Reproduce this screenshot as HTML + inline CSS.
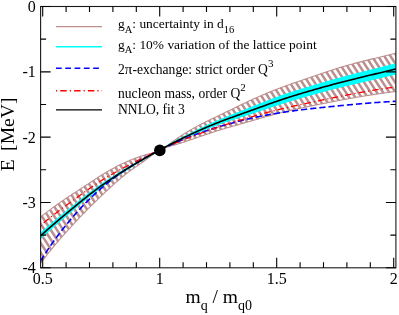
<!DOCTYPE html>
<html><head><meta charset="utf-8"><title>plot</title><style>
html,body{margin:0;padding:0;background:#fff;overflow:hidden}svg{display:block;will-change:transform}
text{font-family:"Liberation Serif",serif;fill:#000}
</style></head><body>
<svg width="399" height="315" viewBox="0 0 399 315">
<rect width="399" height="315" fill="#fff"/>
<defs>
<clipPath id="c"><rect x="40.6" y="6.5" width="355.3" height="261.3"/></clipPath>
</defs>
<g clip-path="url(#c)">
<clipPath id="bc"><polygon points="40.50,217.00 41.50,216.22 42.50,215.45 43.50,214.68 44.50,213.92 45.50,213.16 46.50,212.40 47.50,211.64 48.50,210.89 49.50,210.15 50.50,209.40 51.50,208.66 52.50,207.92 53.50,207.19 54.50,206.46 55.50,205.74 56.50,205.02 57.50,204.30 58.50,203.59 59.50,202.88 60.50,202.17 61.50,201.47 62.50,200.78 63.50,200.09 64.50,199.40 65.50,198.72 66.50,198.04 67.50,197.36 68.50,196.69 69.50,196.03 70.50,195.37 71.50,194.72 72.50,194.06 73.50,193.42 74.50,192.77 75.50,192.13 76.50,191.48 77.50,190.84 78.50,190.20 79.50,189.56 80.50,188.92 81.50,188.27 82.50,187.63 83.50,186.98 84.50,186.33 85.50,185.67 86.50,185.01 87.50,184.35 88.50,183.68 89.50,183.02 90.50,182.35 91.50,181.68 92.50,181.01 93.50,180.34 94.50,179.68 95.50,179.02 96.50,178.36 97.50,177.71 98.50,177.06 99.50,176.42 100.50,175.78 101.50,175.15 102.50,174.53 103.50,173.92 104.50,173.31 105.50,172.71 106.50,172.12 107.50,171.53 108.50,170.95 109.50,170.38 110.50,169.82 111.50,169.26 112.50,168.71 113.50,168.17 114.50,167.64 115.50,167.11 116.50,166.59 117.50,166.08 118.50,165.57 119.50,165.07 120.50,164.58 121.50,164.10 122.50,163.62 123.50,163.16 124.50,162.70 125.50,162.24 126.50,161.80 127.50,161.36 128.50,160.93 129.50,160.51 130.50,160.09 131.50,159.69 132.50,159.29 133.50,158.90 134.50,158.51 135.50,158.14 136.50,157.77 137.50,157.41 138.50,157.06 139.50,156.72 140.50,156.39 141.50,156.06 142.50,155.75 143.50,155.44 144.50,155.15 145.50,154.86 146.50,154.58 147.50,154.30 148.50,154.02 149.50,153.75 150.50,153.46 151.50,153.17 152.50,152.87 153.50,152.55 154.50,152.22 155.50,151.86 156.50,151.48 157.50,151.08 158.50,150.64 159.50,150.17 160.50,149.66 161.50,149.12 162.50,148.55 163.50,147.95 164.50,147.33 165.50,146.68 166.50,146.02 167.50,145.33 168.50,144.64 169.50,143.94 170.50,143.22 171.50,142.51 172.50,141.79 173.50,141.07 174.50,140.35 175.50,139.65 176.50,138.95 177.50,138.26 178.50,137.57 179.50,136.90 180.50,136.23 181.50,135.57 182.50,134.92 183.50,134.28 184.50,133.64 185.50,133.02 186.50,132.40 187.50,131.79 188.50,131.19 189.50,130.59 190.50,130.01 191.50,129.43 192.50,128.86 193.50,128.30 194.50,127.74 195.50,127.19 196.50,126.65 197.50,126.12 198.50,125.58 199.50,125.06 200.50,124.54 201.50,124.03 202.50,123.52 203.50,123.01 204.50,122.51 205.50,122.01 206.50,121.51 207.50,121.02 208.50,120.53 209.50,120.05 210.50,119.56 211.50,119.08 212.50,118.60 213.50,118.12 214.50,117.64 215.50,117.16 216.50,116.68 217.50,116.20 218.50,115.72 219.50,115.24 220.50,114.76 221.50,114.28 222.50,113.79 223.50,113.31 224.50,112.83 225.50,112.34 226.50,111.85 227.50,111.37 228.50,110.88 229.50,110.40 230.50,109.91 231.50,109.42 232.50,108.94 233.50,108.45 234.50,107.97 235.50,107.48 236.50,107.00 237.50,106.51 238.50,106.03 239.50,105.55 240.50,105.07 241.50,104.59 242.50,104.12 243.50,103.64 244.50,103.17 245.50,102.70 246.50,102.23 247.50,101.76 248.50,101.29 249.50,100.83 250.50,100.37 251.50,99.91 252.50,99.46 253.50,99.00 254.50,98.55 255.50,98.11 256.50,97.66 257.50,97.22 258.50,96.78 259.50,96.34 260.50,95.91 261.50,95.48 262.50,95.05 263.50,94.62 264.50,94.20 265.50,93.78 266.50,93.36 267.50,92.94 268.50,92.53 269.50,92.12 270.50,91.71 271.50,91.31 272.50,90.91 273.50,90.51 274.50,90.12 275.50,89.73 276.50,89.34 277.50,88.95 278.50,88.57 279.50,88.19 280.50,87.81 281.50,87.44 282.50,87.07 283.50,86.70 284.50,86.33 285.50,85.97 286.50,85.61 287.50,85.25 288.50,84.90 289.50,84.54 290.50,84.19 291.50,83.84 292.50,83.49 293.50,83.14 294.50,82.79 295.50,82.45 296.50,82.10 297.50,81.76 298.50,81.42 299.50,81.08 300.50,80.74 301.50,80.40 302.50,80.06 303.50,79.72 304.50,79.38 305.50,79.03 306.50,78.69 307.50,78.35 308.50,78.01 309.50,77.67 310.50,77.33 311.50,76.99 312.50,76.64 313.50,76.30 314.50,75.95 315.50,75.61 316.50,75.26 317.50,74.92 318.50,74.58 319.50,74.23 320.50,73.89 321.50,73.55 322.50,73.20 323.50,72.86 324.50,72.52 325.50,72.19 326.50,71.85 327.50,71.51 328.50,71.18 329.50,70.85 330.50,70.52 331.50,70.19 332.50,69.86 333.50,69.54 334.50,69.22 335.50,68.90 336.50,68.58 337.50,68.27 338.50,67.96 339.50,67.65 340.50,67.35 341.50,67.05 342.50,66.75 343.50,66.46 344.50,66.17 345.50,65.88 346.50,65.59 347.50,65.31 348.50,65.03 349.50,64.75 350.50,64.48 351.50,64.21 352.50,63.94 353.50,63.67 354.50,63.40 355.50,63.14 356.50,62.88 357.50,62.62 358.50,62.36 359.50,62.11 360.50,61.85 361.50,61.60 362.50,61.35 363.50,61.10 364.50,60.85 365.50,60.60 366.50,60.35 367.50,60.11 368.50,59.86 369.50,59.62 370.50,59.38 371.50,59.14 372.50,58.90 373.50,58.65 374.50,58.41 375.50,58.17 376.50,57.93 377.50,57.69 378.50,57.45 379.50,57.21 380.50,56.97 381.50,56.73 382.50,56.49 383.50,56.25 384.50,56.01 385.50,55.77 386.50,55.53 387.50,55.28 388.50,55.04 389.50,54.79 390.50,54.55 391.50,54.30 392.50,54.05 393.50,53.80 394.50,53.55 395.50,53.30 395.90,53.20 395.90,91.50 395.50,91.55 394.50,91.67 393.50,91.79 392.50,91.91 391.50,92.04 390.50,92.17 389.50,92.30 388.50,92.43 387.50,92.56 386.50,92.69 385.50,92.83 384.50,92.96 383.50,93.10 382.50,93.24 381.50,93.38 380.50,93.52 379.50,93.67 378.50,93.81 377.50,93.96 376.50,94.11 375.50,94.26 374.50,94.41 373.50,94.56 372.50,94.71 371.50,94.87 370.50,95.02 369.50,95.18 368.50,95.34 367.50,95.50 366.50,95.66 365.50,95.82 364.50,95.98 363.50,96.15 362.50,96.31 361.50,96.48 360.50,96.65 359.50,96.81 358.50,96.98 357.50,97.16 356.50,97.33 355.50,97.50 354.50,97.67 353.50,97.85 352.50,98.03 351.50,98.20 350.50,98.38 349.50,98.56 348.50,98.74 347.50,98.92 346.50,99.10 345.50,99.28 344.50,99.47 343.50,99.65 342.50,99.83 341.50,100.02 340.50,100.21 339.50,100.39 338.50,100.58 337.50,100.77 336.50,100.96 335.50,101.15 334.50,101.34 333.50,101.53 332.50,101.72 331.50,101.92 330.50,102.11 329.50,102.30 328.50,102.50 327.50,102.69 326.50,102.89 325.50,103.09 324.50,103.28 323.50,103.48 322.50,103.68 321.50,103.88 320.50,104.08 319.50,104.28 318.50,104.48 317.50,104.68 316.50,104.88 315.50,105.08 314.50,105.28 313.50,105.49 312.50,105.69 311.50,105.89 310.50,106.10 309.50,106.30 308.50,106.51 307.50,106.71 306.50,106.92 305.50,107.13 304.50,107.33 303.50,107.54 302.50,107.75 301.50,107.96 300.50,108.17 299.50,108.39 298.50,108.60 297.50,108.82 296.50,109.03 295.50,109.25 294.50,109.47 293.50,109.69 292.50,109.92 291.50,110.14 290.50,110.37 289.50,110.60 288.50,110.83 287.50,111.07 286.50,111.30 285.50,111.54 284.50,111.78 283.50,112.03 282.50,112.27 281.50,112.52 280.50,112.77 279.50,113.03 278.50,113.29 277.50,113.55 276.50,113.81 275.50,114.07 274.50,114.34 273.50,114.61 272.50,114.89 271.50,115.16 270.50,115.44 269.50,115.71 268.50,115.99 267.50,116.27 266.50,116.56 265.50,116.84 264.50,117.13 263.50,117.41 262.50,117.70 261.50,117.98 260.50,118.27 259.50,118.56 258.50,118.85 257.50,119.14 256.50,119.43 255.50,119.72 254.50,120.01 253.50,120.29 252.50,120.58 251.50,120.87 250.50,121.16 249.50,121.44 248.50,121.73 247.50,122.01 246.50,122.30 245.50,122.58 244.50,122.86 243.50,123.15 242.50,123.43 241.50,123.71 240.50,124.00 239.50,124.28 238.50,124.56 237.50,124.85 236.50,125.13 235.50,125.42 234.50,125.70 233.50,125.99 232.50,126.28 231.50,126.56 230.50,126.85 229.50,127.15 228.50,127.44 227.50,127.73 226.50,128.03 225.50,128.33 224.50,128.63 223.50,128.93 222.50,129.23 221.50,129.54 220.50,129.85 219.50,130.16 218.50,130.47 217.50,130.78 216.50,131.10 215.50,131.42 214.50,131.74 213.50,132.07 212.50,132.39 211.50,132.72 210.50,133.05 209.50,133.38 208.50,133.71 207.50,134.05 206.50,134.38 205.50,134.72 204.50,135.05 203.50,135.39 202.50,135.73 201.50,136.07 200.50,136.41 199.50,136.75 198.50,137.09 197.50,137.43 196.50,137.78 195.50,138.12 194.50,138.46 193.50,138.80 192.50,139.15 191.50,139.49 190.50,139.83 189.50,140.17 188.50,140.51 187.50,140.85 186.50,141.19 185.50,141.53 184.50,141.86 183.50,142.19 182.50,142.51 181.50,142.84 180.50,143.16 179.50,143.47 178.50,143.78 177.50,144.08 176.50,144.37 175.50,144.66 174.50,144.94 173.50,145.21 172.50,145.48 171.50,145.76 170.50,146.03 169.50,146.31 168.50,146.60 167.50,146.90 166.50,147.22 165.50,147.56 164.50,147.92 163.50,148.31 162.50,148.72 161.50,149.16 160.50,149.64 159.50,150.16 158.50,150.72 157.50,151.31 156.50,151.94 155.50,152.60 154.50,153.29 153.50,154.00 152.50,154.72 151.50,155.47 150.50,156.22 149.50,156.98 148.50,157.75 147.50,158.51 146.50,159.27 145.50,160.03 144.50,160.77 143.50,161.50 142.50,162.22 141.50,162.93 140.50,163.63 139.50,164.33 138.50,165.02 137.50,165.71 136.50,166.40 135.50,167.09 134.50,167.79 133.50,168.49 132.50,169.19 131.50,169.91 130.50,170.63 129.50,171.37 128.50,172.12 127.50,172.88 126.50,173.65 125.50,174.44 124.50,175.23 123.50,176.04 122.50,176.85 121.50,177.68 120.50,178.51 119.50,179.36 118.50,180.21 117.50,181.07 116.50,181.95 115.50,182.82 114.50,183.71 113.50,184.60 112.50,185.50 111.50,186.41 110.50,187.32 109.50,188.24 108.50,189.17 107.50,190.10 106.50,191.03 105.50,191.97 104.50,192.91 103.50,193.86 102.50,194.81 101.50,195.76 100.50,196.72 99.50,197.68 98.50,198.64 97.50,199.60 96.50,200.57 95.50,201.54 94.50,202.51 93.50,203.49 92.50,204.47 91.50,205.46 90.50,206.45 89.50,207.45 88.50,208.45 87.50,209.45 86.50,210.47 85.50,211.49 84.50,212.51 83.50,213.55 82.50,214.59 81.50,215.63 80.50,216.68 79.50,217.74 78.50,218.80 77.50,219.87 76.50,220.94 75.50,222.02 74.50,223.10 73.50,224.18 72.50,225.27 71.50,226.36 70.50,227.45 69.50,228.55 68.50,229.65 67.50,230.75 66.50,231.86 65.50,232.97 64.50,234.08 63.50,235.20 62.50,236.33 61.50,237.46 60.50,238.60 59.50,239.74 58.50,240.90 57.50,242.06 56.50,243.23 55.50,244.41 54.50,245.60 53.50,246.79 52.50,248.00 51.50,249.22 50.50,250.45 49.50,251.70 48.50,252.95 47.50,254.22 46.50,255.50 45.50,256.80 44.50,258.11 43.50,259.43 42.50,260.77 41.50,262.13 40.50,263.50"/></clipPath>
<path clip-path="url(#bc)" d="M-272.15,0L-67.59,315M-265.95,0L-61.39,315M-259.75,0L-55.19,315M-253.55,0L-48.99,315M-247.35,0L-42.79,315M-241.15,0L-36.59,315M-234.95,0L-30.39,315M-228.75,0L-24.19,315M-222.55,0L-17.99,315M-216.35,0L-11.79,315M-210.15,0L-5.59,315M-203.95,0L0.61,315M-197.75,0L6.81,315M-191.55,0L13.01,315M-185.35,0L19.21,315M-179.15,0L25.41,315M-172.95,0L31.61,315M-166.75,0L37.81,315M-160.55,0L44.01,315M-154.35,0L50.21,315M-148.15,0L56.41,315M-141.95,0L62.61,315M-135.75,0L68.81,315M-129.55,0L75.01,315M-123.35,0L81.21,315M-117.15,0L87.41,315M-110.95,0L93.61,315M-104.75,0L99.81,315M-98.55,0L106.01,315M-92.35,0L112.21,315M-86.15,0L118.41,315M-79.95,0L124.61,315M-73.75,0L130.81,315M-67.55,0L137.01,315M-61.35,0L143.21,315M-55.15,0L149.41,315M-48.95,0L155.61,315M-42.75,0L161.81,315M-36.55,0L168.01,315M-30.35,0L174.21,315M-24.15,0L180.41,315M-17.95,0L186.61,315M-11.75,0L192.81,315M-5.55,0L199.01,315M0.65,0L205.21,315M6.85,0L211.41,315M13.05,0L217.61,315M19.25,0L223.81,315M25.45,0L230.01,315M31.65,0L236.21,315M37.85,0L242.41,315M44.05,0L248.61,315M50.25,0L254.81,315M56.45,0L261.01,315M62.65,0L267.21,315M68.85,0L273.41,315M75.05,0L279.61,315M81.25,0L285.81,315M87.45,0L292.01,315M93.65,0L298.21,315M99.85,0L304.41,315M106.05,0L310.61,315M112.25,0L316.81,315M118.45,0L323.01,315M124.65,0L329.21,315M130.85,0L335.41,315M137.05,0L341.61,315M143.25,0L347.81,315M149.45,0L354.01,315M155.65,0L360.21,315M161.85,0L366.41,315M168.05,0L372.61,315M174.25,0L378.81,315M180.45,0L385.01,315M186.65,0L391.21,315M192.85,0L397.41,315M199.05,0L403.61,315M205.25,0L409.81,315M211.45,0L416.01,315M217.65,0L422.21,315M223.85,0L428.41,315M230.05,0L434.61,315M236.25,0L440.81,315M242.45,0L447.01,315M248.65,0L453.21,315M254.85,0L459.41,315M261.05,0L465.61,315M267.25,0L471.81,315M273.45,0L478.01,315M279.65,0L484.21,315M285.85,0L490.41,315M292.05,0L496.61,315M298.25,0L502.81,315M304.45,0L509.01,315M310.65,0L515.21,315M316.85,0L521.41,315M323.05,0L527.61,315M329.25,0L533.81,315M335.45,0L540.01,315M341.65,0L546.21,315M347.85,0L552.41,315M354.05,0L558.61,315M360.25,0L564.81,315M366.45,0L571.01,315M372.65,0L577.21,315M378.85,0L583.41,315M385.05,0L589.61,315M391.25,0L595.81,315M397.45,0L602.01,315" stroke="#bc8f8f" stroke-width="2.52" fill="none"/>
<polygon points="40.50,217.00 41.50,216.22 42.50,215.45 43.50,214.68 44.50,213.92 45.50,213.16 46.50,212.40 47.50,211.64 48.50,210.89 49.50,210.15 50.50,209.40 51.50,208.66 52.50,207.92 53.50,207.19 54.50,206.46 55.50,205.74 56.50,205.02 57.50,204.30 58.50,203.59 59.50,202.88 60.50,202.17 61.50,201.47 62.50,200.78 63.50,200.09 64.50,199.40 65.50,198.72 66.50,198.04 67.50,197.36 68.50,196.69 69.50,196.03 70.50,195.37 71.50,194.72 72.50,194.06 73.50,193.42 74.50,192.77 75.50,192.13 76.50,191.48 77.50,190.84 78.50,190.20 79.50,189.56 80.50,188.92 81.50,188.27 82.50,187.63 83.50,186.98 84.50,186.33 85.50,185.67 86.50,185.01 87.50,184.35 88.50,183.68 89.50,183.02 90.50,182.35 91.50,181.68 92.50,181.01 93.50,180.34 94.50,179.68 95.50,179.02 96.50,178.36 97.50,177.71 98.50,177.06 99.50,176.42 100.50,175.78 101.50,175.15 102.50,174.53 103.50,173.92 104.50,173.31 105.50,172.71 106.50,172.12 107.50,171.53 108.50,170.95 109.50,170.38 110.50,169.82 111.50,169.26 112.50,168.71 113.50,168.17 114.50,167.64 115.50,167.11 116.50,166.59 117.50,166.08 118.50,165.57 119.50,165.07 120.50,164.58 121.50,164.10 122.50,163.62 123.50,163.16 124.50,162.70 125.50,162.24 126.50,161.80 127.50,161.36 128.50,160.93 129.50,160.51 130.50,160.09 131.50,159.69 132.50,159.29 133.50,158.90 134.50,158.51 135.50,158.14 136.50,157.77 137.50,157.41 138.50,157.06 139.50,156.72 140.50,156.39 141.50,156.06 142.50,155.75 143.50,155.44 144.50,155.15 145.50,154.86 146.50,154.58 147.50,154.30 148.50,154.02 149.50,153.75 150.50,153.46 151.50,153.17 152.50,152.87 153.50,152.55 154.50,152.22 155.50,151.86 156.50,151.48 157.50,151.08 158.50,150.64 159.50,150.17 160.50,149.66 161.50,149.12 162.50,148.55 163.50,147.95 164.50,147.33 165.50,146.68 166.50,146.02 167.50,145.33 168.50,144.64 169.50,143.94 170.50,143.22 171.50,142.51 172.50,141.79 173.50,141.07 174.50,140.35 175.50,139.65 176.50,138.95 177.50,138.26 178.50,137.57 179.50,136.90 180.50,136.23 181.50,135.57 182.50,134.92 183.50,134.28 184.50,133.64 185.50,133.02 186.50,132.40 187.50,131.79 188.50,131.19 189.50,130.59 190.50,130.01 191.50,129.43 192.50,128.86 193.50,128.30 194.50,127.74 195.50,127.19 196.50,126.65 197.50,126.12 198.50,125.58 199.50,125.06 200.50,124.54 201.50,124.03 202.50,123.52 203.50,123.01 204.50,122.51 205.50,122.01 206.50,121.51 207.50,121.02 208.50,120.53 209.50,120.05 210.50,119.56 211.50,119.08 212.50,118.60 213.50,118.12 214.50,117.64 215.50,117.16 216.50,116.68 217.50,116.20 218.50,115.72 219.50,115.24 220.50,114.76 221.50,114.28 222.50,113.79 223.50,113.31 224.50,112.83 225.50,112.34 226.50,111.85 227.50,111.37 228.50,110.88 229.50,110.40 230.50,109.91 231.50,109.42 232.50,108.94 233.50,108.45 234.50,107.97 235.50,107.48 236.50,107.00 237.50,106.51 238.50,106.03 239.50,105.55 240.50,105.07 241.50,104.59 242.50,104.12 243.50,103.64 244.50,103.17 245.50,102.70 246.50,102.23 247.50,101.76 248.50,101.29 249.50,100.83 250.50,100.37 251.50,99.91 252.50,99.46 253.50,99.00 254.50,98.55 255.50,98.11 256.50,97.66 257.50,97.22 258.50,96.78 259.50,96.34 260.50,95.91 261.50,95.48 262.50,95.05 263.50,94.62 264.50,94.20 265.50,93.78 266.50,93.36 267.50,92.94 268.50,92.53 269.50,92.12 270.50,91.71 271.50,91.31 272.50,90.91 273.50,90.51 274.50,90.12 275.50,89.73 276.50,89.34 277.50,88.95 278.50,88.57 279.50,88.19 280.50,87.81 281.50,87.44 282.50,87.07 283.50,86.70 284.50,86.33 285.50,85.97 286.50,85.61 287.50,85.25 288.50,84.90 289.50,84.54 290.50,84.19 291.50,83.84 292.50,83.49 293.50,83.14 294.50,82.79 295.50,82.45 296.50,82.10 297.50,81.76 298.50,81.42 299.50,81.08 300.50,80.74 301.50,80.40 302.50,80.06 303.50,79.72 304.50,79.38 305.50,79.03 306.50,78.69 307.50,78.35 308.50,78.01 309.50,77.67 310.50,77.33 311.50,76.99 312.50,76.64 313.50,76.30 314.50,75.95 315.50,75.61 316.50,75.26 317.50,74.92 318.50,74.58 319.50,74.23 320.50,73.89 321.50,73.55 322.50,73.20 323.50,72.86 324.50,72.52 325.50,72.19 326.50,71.85 327.50,71.51 328.50,71.18 329.50,70.85 330.50,70.52 331.50,70.19 332.50,69.86 333.50,69.54 334.50,69.22 335.50,68.90 336.50,68.58 337.50,68.27 338.50,67.96 339.50,67.65 340.50,67.35 341.50,67.05 342.50,66.75 343.50,66.46 344.50,66.17 345.50,65.88 346.50,65.59 347.50,65.31 348.50,65.03 349.50,64.75 350.50,64.48 351.50,64.21 352.50,63.94 353.50,63.67 354.50,63.40 355.50,63.14 356.50,62.88 357.50,62.62 358.50,62.36 359.50,62.11 360.50,61.85 361.50,61.60 362.50,61.35 363.50,61.10 364.50,60.85 365.50,60.60 366.50,60.35 367.50,60.11 368.50,59.86 369.50,59.62 370.50,59.38 371.50,59.14 372.50,58.90 373.50,58.65 374.50,58.41 375.50,58.17 376.50,57.93 377.50,57.69 378.50,57.45 379.50,57.21 380.50,56.97 381.50,56.73 382.50,56.49 383.50,56.25 384.50,56.01 385.50,55.77 386.50,55.53 387.50,55.28 388.50,55.04 389.50,54.79 390.50,54.55 391.50,54.30 392.50,54.05 393.50,53.80 394.50,53.55 395.50,53.30 395.90,53.20 395.90,91.50 395.50,91.55 394.50,91.67 393.50,91.79 392.50,91.91 391.50,92.04 390.50,92.17 389.50,92.30 388.50,92.43 387.50,92.56 386.50,92.69 385.50,92.83 384.50,92.96 383.50,93.10 382.50,93.24 381.50,93.38 380.50,93.52 379.50,93.67 378.50,93.81 377.50,93.96 376.50,94.11 375.50,94.26 374.50,94.41 373.50,94.56 372.50,94.71 371.50,94.87 370.50,95.02 369.50,95.18 368.50,95.34 367.50,95.50 366.50,95.66 365.50,95.82 364.50,95.98 363.50,96.15 362.50,96.31 361.50,96.48 360.50,96.65 359.50,96.81 358.50,96.98 357.50,97.16 356.50,97.33 355.50,97.50 354.50,97.67 353.50,97.85 352.50,98.03 351.50,98.20 350.50,98.38 349.50,98.56 348.50,98.74 347.50,98.92 346.50,99.10 345.50,99.28 344.50,99.47 343.50,99.65 342.50,99.83 341.50,100.02 340.50,100.21 339.50,100.39 338.50,100.58 337.50,100.77 336.50,100.96 335.50,101.15 334.50,101.34 333.50,101.53 332.50,101.72 331.50,101.92 330.50,102.11 329.50,102.30 328.50,102.50 327.50,102.69 326.50,102.89 325.50,103.09 324.50,103.28 323.50,103.48 322.50,103.68 321.50,103.88 320.50,104.08 319.50,104.28 318.50,104.48 317.50,104.68 316.50,104.88 315.50,105.08 314.50,105.28 313.50,105.49 312.50,105.69 311.50,105.89 310.50,106.10 309.50,106.30 308.50,106.51 307.50,106.71 306.50,106.92 305.50,107.13 304.50,107.33 303.50,107.54 302.50,107.75 301.50,107.96 300.50,108.17 299.50,108.39 298.50,108.60 297.50,108.82 296.50,109.03 295.50,109.25 294.50,109.47 293.50,109.69 292.50,109.92 291.50,110.14 290.50,110.37 289.50,110.60 288.50,110.83 287.50,111.07 286.50,111.30 285.50,111.54 284.50,111.78 283.50,112.03 282.50,112.27 281.50,112.52 280.50,112.77 279.50,113.03 278.50,113.29 277.50,113.55 276.50,113.81 275.50,114.07 274.50,114.34 273.50,114.61 272.50,114.89 271.50,115.16 270.50,115.44 269.50,115.71 268.50,115.99 267.50,116.27 266.50,116.56 265.50,116.84 264.50,117.13 263.50,117.41 262.50,117.70 261.50,117.98 260.50,118.27 259.50,118.56 258.50,118.85 257.50,119.14 256.50,119.43 255.50,119.72 254.50,120.01 253.50,120.29 252.50,120.58 251.50,120.87 250.50,121.16 249.50,121.44 248.50,121.73 247.50,122.01 246.50,122.30 245.50,122.58 244.50,122.86 243.50,123.15 242.50,123.43 241.50,123.71 240.50,124.00 239.50,124.28 238.50,124.56 237.50,124.85 236.50,125.13 235.50,125.42 234.50,125.70 233.50,125.99 232.50,126.28 231.50,126.56 230.50,126.85 229.50,127.15 228.50,127.44 227.50,127.73 226.50,128.03 225.50,128.33 224.50,128.63 223.50,128.93 222.50,129.23 221.50,129.54 220.50,129.85 219.50,130.16 218.50,130.47 217.50,130.78 216.50,131.10 215.50,131.42 214.50,131.74 213.50,132.07 212.50,132.39 211.50,132.72 210.50,133.05 209.50,133.38 208.50,133.71 207.50,134.05 206.50,134.38 205.50,134.72 204.50,135.05 203.50,135.39 202.50,135.73 201.50,136.07 200.50,136.41 199.50,136.75 198.50,137.09 197.50,137.43 196.50,137.78 195.50,138.12 194.50,138.46 193.50,138.80 192.50,139.15 191.50,139.49 190.50,139.83 189.50,140.17 188.50,140.51 187.50,140.85 186.50,141.19 185.50,141.53 184.50,141.86 183.50,142.19 182.50,142.51 181.50,142.84 180.50,143.16 179.50,143.47 178.50,143.78 177.50,144.08 176.50,144.37 175.50,144.66 174.50,144.94 173.50,145.21 172.50,145.48 171.50,145.76 170.50,146.03 169.50,146.31 168.50,146.60 167.50,146.90 166.50,147.22 165.50,147.56 164.50,147.92 163.50,148.31 162.50,148.72 161.50,149.16 160.50,149.64 159.50,150.16 158.50,150.72 157.50,151.31 156.50,151.94 155.50,152.60 154.50,153.29 153.50,154.00 152.50,154.72 151.50,155.47 150.50,156.22 149.50,156.98 148.50,157.75 147.50,158.51 146.50,159.27 145.50,160.03 144.50,160.77 143.50,161.50 142.50,162.22 141.50,162.93 140.50,163.63 139.50,164.33 138.50,165.02 137.50,165.71 136.50,166.40 135.50,167.09 134.50,167.79 133.50,168.49 132.50,169.19 131.50,169.91 130.50,170.63 129.50,171.37 128.50,172.12 127.50,172.88 126.50,173.65 125.50,174.44 124.50,175.23 123.50,176.04 122.50,176.85 121.50,177.68 120.50,178.51 119.50,179.36 118.50,180.21 117.50,181.07 116.50,181.95 115.50,182.82 114.50,183.71 113.50,184.60 112.50,185.50 111.50,186.41 110.50,187.32 109.50,188.24 108.50,189.17 107.50,190.10 106.50,191.03 105.50,191.97 104.50,192.91 103.50,193.86 102.50,194.81 101.50,195.76 100.50,196.72 99.50,197.68 98.50,198.64 97.50,199.60 96.50,200.57 95.50,201.54 94.50,202.51 93.50,203.49 92.50,204.47 91.50,205.46 90.50,206.45 89.50,207.45 88.50,208.45 87.50,209.45 86.50,210.47 85.50,211.49 84.50,212.51 83.50,213.55 82.50,214.59 81.50,215.63 80.50,216.68 79.50,217.74 78.50,218.80 77.50,219.87 76.50,220.94 75.50,222.02 74.50,223.10 73.50,224.18 72.50,225.27 71.50,226.36 70.50,227.45 69.50,228.55 68.50,229.65 67.50,230.75 66.50,231.86 65.50,232.97 64.50,234.08 63.50,235.20 62.50,236.33 61.50,237.46 60.50,238.60 59.50,239.74 58.50,240.90 57.50,242.06 56.50,243.23 55.50,244.41 54.50,245.60 53.50,246.79 52.50,248.00 51.50,249.22 50.50,250.45 49.50,251.70 48.50,252.95 47.50,254.22 46.50,255.50 45.50,256.80 44.50,258.11 43.50,259.43 42.50,260.77 41.50,262.13 40.50,263.50" fill="none" stroke="#bc8f8f" stroke-width="1.1"/>
<polygon points="40.50,233.50 41.50,232.59 42.50,231.69 43.50,230.80 44.50,229.91 45.50,229.03 46.50,228.16 47.50,227.29 48.50,226.42 49.50,225.56 50.50,224.70 51.50,223.85 52.50,223.00 53.50,222.16 54.50,221.32 55.50,220.48 56.50,219.65 57.50,218.82 58.50,217.99 59.50,217.17 60.50,216.34 61.50,215.52 62.50,214.70 63.50,213.89 64.50,213.07 65.50,212.26 66.50,211.44 67.50,210.63 68.50,209.82 69.50,209.01 70.50,208.19 71.50,207.38 72.50,206.57 73.50,205.76 74.50,204.95 75.50,204.14 76.50,203.34 77.50,202.53 78.50,201.73 79.50,200.93 80.50,200.14 81.50,199.34 82.50,198.55 83.50,197.77 84.50,196.99 85.50,196.21 86.50,195.44 87.50,194.67 88.50,193.91 89.50,193.16 90.50,192.40 91.50,191.66 92.50,190.91 93.50,190.18 94.50,189.44 95.50,188.72 96.50,187.99 97.50,187.27 98.50,186.56 99.50,185.85 100.50,185.15 101.50,184.45 102.50,183.76 103.50,183.07 104.50,182.38 105.50,181.70 106.50,181.03 107.50,180.36 108.50,179.69 109.50,179.03 110.50,178.37 111.50,177.72 112.50,177.07 113.50,176.42 114.50,175.78 115.50,175.15 116.50,174.51 117.50,173.88 118.50,173.26 119.50,172.63 120.50,172.02 121.50,171.40 122.50,170.79 123.50,170.18 124.50,169.57 125.50,168.97 126.50,168.37 127.50,167.78 128.50,167.18 129.50,166.59 130.50,166.01 131.50,165.42 132.50,164.84 133.50,164.26 134.50,163.69 135.50,163.12 136.50,162.55 137.50,161.98 138.50,161.42 139.50,160.86 140.50,160.30 141.50,159.75 142.50,159.20 143.50,158.66 144.50,158.12 145.50,157.58 146.50,157.05 147.50,156.52 148.50,155.99 149.50,155.46 150.50,154.94 151.50,154.41 152.50,153.89 153.50,153.36 154.50,152.84 155.50,152.31 156.50,151.78 157.50,151.24 158.50,150.70 159.50,150.16 160.50,149.61 161.50,149.06 162.50,148.51 163.50,147.95 164.50,147.39 165.50,146.82 166.50,146.26 167.50,145.69 168.50,145.13 169.50,144.57 170.50,144.00 171.50,143.44 172.50,142.88 173.50,142.33 174.50,141.77 175.50,141.23 176.50,140.68 177.50,140.14 178.50,139.61 179.50,139.08 180.50,138.55 181.50,138.02 182.50,137.50 183.50,136.99 184.50,136.47 185.50,135.96 186.50,135.46 187.50,134.95 188.50,134.45 189.50,133.95 190.50,133.45 191.50,132.96 192.50,132.46 193.50,131.97 194.50,131.49 195.50,131.00 196.50,130.52 197.50,130.04 198.50,129.56 199.50,129.08 200.50,128.61 201.50,128.14 202.50,127.67 203.50,127.20 204.50,126.74 205.50,126.28 206.50,125.82 207.50,125.37 208.50,124.91 209.50,124.46 210.50,124.02 211.50,123.57 212.50,123.13 213.50,122.69 214.50,122.25 215.50,121.82 216.50,121.39 217.50,120.96 218.50,120.53 219.50,120.11 220.50,119.69 221.50,119.27 222.50,118.86 223.50,118.45 224.50,118.04 225.50,117.63 226.50,117.23 227.50,116.82 228.50,116.42 229.50,116.02 230.50,115.62 231.50,115.23 232.50,114.83 233.50,114.44 234.50,114.05 235.50,113.66 236.50,113.26 237.50,112.87 238.50,112.48 239.50,112.10 240.50,111.71 241.50,111.32 242.50,110.93 243.50,110.54 244.50,110.15 245.50,109.76 246.50,109.37 247.50,108.98 248.50,108.59 249.50,108.20 250.50,107.80 251.50,107.41 252.50,107.01 253.50,106.62 254.50,106.22 255.50,105.82 256.50,105.43 257.50,105.03 258.50,104.63 259.50,104.24 260.50,103.84 261.50,103.44 262.50,103.05 263.50,102.65 264.50,102.26 265.50,101.87 266.50,101.48 267.50,101.09 268.50,100.70 269.50,100.31 270.50,99.93 271.50,99.54 272.50,99.16 273.50,98.79 274.50,98.41 275.50,98.04 276.50,97.67 277.50,97.30 278.50,96.94 279.50,96.58 280.50,96.22 281.50,95.87 282.50,95.52 283.50,95.17 284.50,94.83 285.50,94.49 286.50,94.15 287.50,93.82 288.50,93.49 289.50,93.16 290.50,92.83 291.50,92.51 292.50,92.18 293.50,91.86 294.50,91.55 295.50,91.23 296.50,90.92 297.50,90.60 298.50,90.29 299.50,89.98 300.50,89.68 301.50,89.37 302.50,89.06 303.50,88.76 304.50,88.46 305.50,88.15 306.50,87.85 307.50,87.55 308.50,87.25 309.50,86.95 310.50,86.65 311.50,86.35 312.50,86.05 313.50,85.75 314.50,85.45 315.50,85.15 316.50,84.86 317.50,84.56 318.50,84.26 319.50,83.97 320.50,83.67 321.50,83.38 322.50,83.08 323.50,82.79 324.50,82.50 325.50,82.20 326.50,81.91 327.50,81.62 328.50,81.34 329.50,81.05 330.50,80.76 331.50,80.48 332.50,80.19 333.50,79.91 334.50,79.63 335.50,79.35 336.50,79.07 337.50,78.79 338.50,78.51 339.50,78.24 340.50,77.96 341.50,77.69 342.50,77.42 343.50,77.15 344.50,76.88 345.50,76.62 346.50,76.35 347.50,76.09 348.50,75.83 349.50,75.57 350.50,75.31 351.50,75.05 352.50,74.79 353.50,74.53 354.50,74.28 355.50,74.02 356.50,73.77 357.50,73.51 358.50,73.26 359.50,73.01 360.50,72.76 361.50,72.51 362.50,72.26 363.50,72.01 364.50,71.76 365.50,71.51 366.50,71.26 367.50,71.02 368.50,70.77 369.50,70.52 370.50,70.28 371.50,70.03 372.50,69.79 373.50,69.54 374.50,69.29 375.50,69.05 376.50,68.80 377.50,68.56 378.50,68.31 379.50,68.07 380.50,67.82 381.50,67.58 382.50,67.33 383.50,67.09 384.50,66.84 385.50,66.59 386.50,66.35 387.50,66.10 388.50,65.85 389.50,65.60 390.50,65.35 391.50,65.11 392.50,64.86 393.50,64.60 394.50,64.35 395.50,64.10 395.90,64.00 395.90,74.00 395.50,74.09 394.50,74.33 393.50,74.56 392.50,74.80 391.50,75.03 390.50,75.27 389.50,75.50 388.50,75.73 387.50,75.97 386.50,76.20 385.50,76.43 384.50,76.66 383.50,76.89 382.50,77.12 381.50,77.35 380.50,77.58 379.50,77.81 378.50,78.04 377.50,78.27 376.50,78.50 375.50,78.73 374.50,78.96 373.50,79.19 372.50,79.42 371.50,79.65 370.50,79.88 369.50,80.12 368.50,80.35 367.50,80.58 366.50,80.81 365.50,81.04 364.50,81.27 363.50,81.50 362.50,81.73 361.50,81.97 360.50,82.20 359.50,82.43 358.50,82.67 357.50,82.90 356.50,83.13 355.50,83.37 354.50,83.60 353.50,83.84 352.50,84.08 351.50,84.32 350.50,84.55 349.50,84.79 348.50,85.03 347.50,85.27 346.50,85.51 345.50,85.75 344.50,86.00 343.50,86.24 342.50,86.49 341.50,86.73 340.50,86.98 339.50,87.22 338.50,87.47 337.50,87.72 336.50,87.97 335.50,88.22 334.50,88.47 333.50,88.73 332.50,88.98 331.50,89.24 330.50,89.49 329.50,89.75 328.50,90.01 327.50,90.27 326.50,90.53 325.50,90.79 324.50,91.05 323.50,91.32 322.50,91.58 321.50,91.85 320.50,92.12 319.50,92.39 318.50,92.66 317.50,92.93 316.50,93.20 315.50,93.47 314.50,93.75 313.50,94.02 312.50,94.30 311.50,94.58 310.50,94.86 309.50,95.14 308.50,95.42 307.50,95.71 306.50,95.99 305.50,96.28 304.50,96.56 303.50,96.85 302.50,97.14 301.50,97.43 300.50,97.73 299.50,98.02 298.50,98.32 297.50,98.61 296.50,98.91 295.50,99.21 294.50,99.51 293.50,99.81 292.50,100.11 291.50,100.42 290.50,100.72 289.50,101.03 288.50,101.33 287.50,101.64 286.50,101.95 285.50,102.27 284.50,102.58 283.50,102.89 282.50,103.21 281.50,103.52 280.50,103.84 279.50,104.16 278.50,104.48 277.50,104.80 276.50,105.12 275.50,105.45 274.50,105.77 273.50,106.10 272.50,106.42 271.50,106.75 270.50,107.08 269.50,107.40 268.50,107.73 267.50,108.06 266.50,108.39 265.50,108.72 264.50,109.05 263.50,109.38 262.50,109.71 261.50,110.04 260.50,110.37 259.50,110.69 258.50,111.02 257.50,111.35 256.50,111.68 255.50,112.01 254.50,112.34 253.50,112.66 252.50,112.99 251.50,113.31 250.50,113.64 249.50,113.96 248.50,114.28 247.50,114.61 246.50,114.93 245.50,115.25 244.50,115.57 243.50,115.89 242.50,116.21 241.50,116.53 240.50,116.85 239.50,117.17 238.50,117.49 237.50,117.82 236.50,118.14 235.50,118.46 234.50,118.79 233.50,119.11 232.50,119.44 231.50,119.77 230.50,120.10 229.50,120.43 228.50,120.77 227.50,121.10 226.50,121.44 225.50,121.78 224.50,122.12 223.50,122.47 222.50,122.82 221.50,123.17 220.50,123.52 219.50,123.88 218.50,124.24 217.50,124.60 216.50,124.97 215.50,125.34 214.50,125.71 213.50,126.09 212.50,126.46 211.50,126.85 210.50,127.23 209.50,127.62 208.50,128.01 207.50,128.40 206.50,128.80 205.50,129.19 204.50,129.60 203.50,130.00 202.50,130.41 201.50,130.82 200.50,131.23 199.50,131.64 198.50,132.06 197.50,132.48 196.50,132.90 195.50,133.32 194.50,133.75 193.50,134.18 192.50,134.61 191.50,135.04 190.50,135.48 189.50,135.92 188.50,136.36 187.50,136.80 186.50,137.25 185.50,137.69 184.50,138.14 183.50,138.59 182.50,139.05 181.50,139.50 180.50,139.96 179.50,140.42 178.50,140.88 177.50,141.34 176.50,141.80 175.50,142.27 174.50,142.73 173.50,143.20 172.50,143.67 171.50,144.14 170.50,144.62 169.50,145.10 168.50,145.58 167.50,146.07 166.50,146.56 165.50,147.06 164.50,147.56 163.50,148.06 162.50,148.58 161.50,149.10 160.50,149.63 159.50,150.16 158.50,150.70 157.50,151.25 156.50,151.81 155.50,152.37 154.50,152.94 153.50,153.52 152.50,154.10 151.50,154.68 150.50,155.27 149.50,155.86 148.50,156.46 147.50,157.05 146.50,157.65 145.50,158.25 144.50,158.85 143.50,159.45 142.50,160.05 141.50,160.65 140.50,161.26 139.50,161.86 138.50,162.47 137.50,163.08 136.50,163.69 135.50,164.30 134.50,164.91 133.50,165.53 132.50,166.14 131.50,166.76 130.50,167.39 129.50,168.01 128.50,168.64 127.50,169.27 126.50,169.91 125.50,170.55 124.50,171.19 123.50,171.83 122.50,172.48 121.50,173.13 120.50,173.79 119.50,174.45 118.50,175.11 117.50,175.78 116.50,176.45 115.50,177.12 114.50,177.80 113.50,178.48 112.50,179.17 111.50,179.86 110.50,180.55 109.50,181.25 108.50,181.95 107.50,182.66 106.50,183.37 105.50,184.08 104.50,184.80 103.50,185.53 102.50,186.26 101.50,186.99 100.50,187.73 99.50,188.47 98.50,189.22 97.50,189.97 96.50,190.73 95.50,191.50 94.50,192.26 93.50,193.04 92.50,193.81 91.50,194.60 90.50,195.38 89.50,196.18 88.50,196.97 87.50,197.77 86.50,198.58 85.50,199.39 84.50,200.21 83.50,201.03 82.50,201.85 81.50,202.68 80.50,203.52 79.50,204.35 78.50,205.19 77.50,206.03 76.50,206.88 75.50,207.72 74.50,208.57 73.50,209.42 72.50,210.27 71.50,211.12 70.50,211.97 69.50,212.83 68.50,213.68 67.50,214.53 66.50,215.38 65.50,216.24 64.50,217.09 63.50,217.95 62.50,218.80 61.50,219.66 60.50,220.52 59.50,221.38 58.50,222.25 57.50,223.12 56.50,223.99 55.50,224.86 54.50,225.74 53.50,226.62 52.50,227.50 51.50,228.39 50.50,229.29 49.50,230.18 48.50,231.08 47.50,231.99 46.50,232.90 45.50,233.82 44.50,234.75 43.50,235.67 42.50,236.61 41.50,237.55 40.50,238.50" fill="#00ffff" stroke="#00ffff" stroke-width="1.2"/>
<polyline points="40.50,261.00 41.50,259.39 42.50,257.80 43.50,256.22 44.50,254.67 45.50,253.13 46.50,251.62 47.50,250.12 48.50,248.63 49.50,247.17 50.50,245.72 51.50,244.29 52.50,242.87 53.50,241.47 54.50,240.09 55.50,238.72 56.50,237.36 57.50,236.02 58.50,234.69 59.50,233.38 60.50,232.08 61.50,230.79 62.50,229.51 63.50,228.25 64.50,227.00 65.50,225.76 66.50,224.53 67.50,223.31 68.50,222.10 69.50,220.90 70.50,219.71 71.50,218.53 72.50,217.35 73.50,216.19 74.50,215.04 75.50,213.90 76.50,212.77 77.50,211.65 78.50,210.54 79.50,209.44 80.50,208.35 81.50,207.27 82.50,206.21 83.50,205.16 84.50,204.12 85.50,203.09 86.50,202.07 87.50,201.07 88.50,200.07 89.50,199.09 90.50,198.12 91.50,197.16 92.50,196.21 93.50,195.27 94.50,194.34 95.50,193.42 96.50,192.51 97.50,191.61 98.50,190.72 99.50,189.84 100.50,188.96 101.50,188.10 102.50,187.24 103.50,186.39 104.50,185.55 105.50,184.72 106.50,183.89 107.50,183.08 108.50,182.27 109.50,181.47 110.50,180.68 111.50,179.89 112.50,179.12 113.50,178.35 114.50,177.59 115.50,176.84 116.50,176.09 117.50,175.36 118.50,174.63 119.50,173.91 120.50,173.19 121.50,172.49 122.50,171.79 123.50,171.10 124.50,170.42 125.50,169.74 126.50,169.08 127.50,168.42 128.50,167.76 129.50,167.12 130.50,166.48 131.50,165.85 132.50,165.23 133.50,164.61 134.50,164.00 135.50,163.40 136.50,162.80 137.50,162.21 138.50,161.62 139.50,161.04 140.50,160.46 141.50,159.88 142.50,159.31 143.50,158.75 144.50,158.18 145.50,157.62 146.50,157.06 147.50,156.51 148.50,155.95 149.50,155.41 150.50,154.86 151.50,154.32 152.50,153.78 153.50,153.25 154.50,152.72 155.50,152.20 156.50,151.68 157.50,151.17 158.50,150.67 159.50,150.17 160.50,149.67 161.50,149.18 162.50,148.70 163.50,148.22 164.50,147.75 165.50,147.28 166.50,146.81 167.50,146.35 168.50,145.90 169.50,145.44 170.50,144.99 171.50,144.55 172.50,144.10 173.50,143.66 174.50,143.22 175.50,142.78 176.50,142.34 177.50,141.91 178.50,141.47 179.50,141.04 180.50,140.62 181.50,140.19 182.50,139.77 183.50,139.35 184.50,138.93 185.50,138.51 186.50,138.10 187.50,137.70 188.50,137.30 189.50,136.90 190.50,136.50 191.50,136.11 192.50,135.73 193.50,135.35 194.50,134.97 195.50,134.60 196.50,134.23 197.50,133.87 198.50,133.50 199.50,133.15 200.50,132.79 201.50,132.44 202.50,132.10 203.50,131.75 204.50,131.41 205.50,131.08 206.50,130.74 207.50,130.41 208.50,130.09 209.50,129.76 210.50,129.44 211.50,129.12 212.50,128.80 213.50,128.49 214.50,128.18 215.50,127.87 216.50,127.56 217.50,127.25 218.50,126.95 219.50,126.65 220.50,126.35 221.50,126.05 222.50,125.76 223.50,125.46 224.50,125.17 225.50,124.88 226.50,124.59 227.50,124.31 228.50,124.02 229.50,123.74 230.50,123.46 231.50,123.19 232.50,122.91 233.50,122.64 234.50,122.37 235.50,122.10 236.50,121.83 237.50,121.57 238.50,121.31 239.50,121.05 240.50,120.80 241.50,120.54 242.50,120.29 243.50,120.04 244.50,119.80 245.50,119.56 246.50,119.32 247.50,119.08 248.50,118.85 249.50,118.61 250.50,118.39 251.50,118.16 252.50,117.94 253.50,117.72 254.50,117.50 255.50,117.29 256.50,117.08 257.50,116.87 258.50,116.66 259.50,116.46 260.50,116.26 261.50,116.06 262.50,115.86 263.50,115.67 264.50,115.48 265.50,115.29 266.50,115.10 267.50,114.92 268.50,114.74 269.50,114.56 270.50,114.38 271.50,114.20 272.50,114.03 273.50,113.86 274.50,113.69 275.50,113.53 276.50,113.36 277.50,113.20 278.50,113.04 279.50,112.88 280.50,112.72 281.50,112.57 282.50,112.41 283.50,112.26 284.50,112.11 285.50,111.96 286.50,111.82 287.50,111.67 288.50,111.53 289.50,111.39 290.50,111.25 291.50,111.11 292.50,110.98 293.50,110.84 294.50,110.71 295.50,110.57 296.50,110.44 297.50,110.31 298.50,110.19 299.50,110.06 300.50,109.93 301.50,109.81 302.50,109.69 303.50,109.56 304.50,109.44 305.50,109.32 306.50,109.21 307.50,109.09 308.50,108.97 309.50,108.86 310.50,108.74 311.50,108.63 312.50,108.52 313.50,108.41 314.50,108.30 315.50,108.19 316.50,108.08 317.50,107.97 318.50,107.86 319.50,107.76 320.50,107.65 321.50,107.55 322.50,107.44 323.50,107.34 324.50,107.23 325.50,107.13 326.50,107.03 327.50,106.93 328.50,106.83 329.50,106.73 330.50,106.63 331.50,106.53 332.50,106.43 333.50,106.33 334.50,106.23 335.50,106.14 336.50,106.04 337.50,105.94 338.50,105.84 339.50,105.75 340.50,105.65 341.50,105.56 342.50,105.46 343.50,105.36 344.50,105.27 345.50,105.17 346.50,105.08 347.50,104.98 348.50,104.89 349.50,104.80 350.50,104.70 351.50,104.61 352.50,104.52 353.50,104.43 354.50,104.33 355.50,104.24 356.50,104.15 357.50,104.06 358.50,103.97 359.50,103.89 360.50,103.80 361.50,103.71 362.50,103.62 363.50,103.54 364.50,103.45 365.50,103.37 366.50,103.29 367.50,103.20 368.50,103.12 369.50,103.04 370.50,102.96 371.50,102.88 372.50,102.80 373.50,102.73 374.50,102.65 375.50,102.57 376.50,102.50 377.50,102.43 378.50,102.36 379.50,102.28 380.50,102.21 381.50,102.15 382.50,102.08 383.50,102.01 384.50,101.95 385.50,101.88 386.50,101.82 387.50,101.76 388.50,101.70 389.50,101.64 390.50,101.58 391.50,101.53 392.50,101.47 393.50,101.42 394.50,101.37 395.50,101.32 395.90,101.30" fill="none" stroke="#0000ff" stroke-width="1.6" stroke-dasharray="6.2 3.0"/>
<polyline points="40.50,225.80 41.50,224.91 42.50,224.03 43.50,223.16 44.50,222.31 45.50,221.46 46.50,220.62 47.50,219.79 48.50,218.97 49.50,218.15 50.50,217.34 51.50,216.55 52.50,215.75 53.50,214.97 54.50,214.19 55.50,213.41 56.50,212.65 57.50,211.88 58.50,211.12 59.50,210.37 60.50,209.62 61.50,208.87 62.50,208.12 63.50,207.38 64.50,206.64 65.50,205.91 66.50,205.17 67.50,204.43 68.50,203.70 69.50,202.97 70.50,202.23 71.50,201.50 72.50,200.77 73.50,200.03 74.50,199.30 75.50,198.57 76.50,197.84 77.50,197.11 78.50,196.38 79.50,195.65 80.50,194.93 81.50,194.21 82.50,193.49 83.50,192.77 84.50,192.06 85.50,191.34 86.50,190.64 87.50,189.93 88.50,189.23 89.50,188.53 90.50,187.84 91.50,187.15 92.50,186.47 93.50,185.79 94.50,185.11 95.50,184.44 96.50,183.78 97.50,183.12 98.50,182.47 99.50,181.82 100.50,181.18 101.50,180.55 102.50,179.92 103.50,179.30 104.50,178.68 105.50,178.07 106.50,177.47 107.50,176.87 108.50,176.27 109.50,175.68 110.50,175.10 111.50,174.52 112.50,173.95 113.50,173.38 114.50,172.81 115.50,172.25 116.50,171.69 117.50,171.14 118.50,170.59 119.50,170.04 120.50,169.50 121.50,168.96 122.50,168.43 123.50,167.90 124.50,167.37 125.50,166.84 126.50,166.32 127.50,165.79 128.50,165.27 129.50,164.76 130.50,164.24 131.50,163.73 132.50,163.22 133.50,162.71 134.50,162.20 135.50,161.70 136.50,161.19 137.50,160.69 138.50,160.19 139.50,159.70 140.50,159.20 141.50,158.71 142.50,158.22 143.50,157.73 144.50,157.24 145.50,156.76 146.50,156.27 147.50,155.79 148.50,155.32 149.50,154.84 150.50,154.36 151.50,153.89 152.50,153.42 153.50,152.95 154.50,152.48 155.50,152.02 156.50,151.55 157.50,151.09 158.50,150.63 159.50,150.17 160.50,149.71 161.50,149.26 162.50,148.80 163.50,148.35 164.50,147.90 165.50,147.45 166.50,147.01 167.50,146.56 168.50,146.12 169.50,145.68 170.50,145.24 171.50,144.81 172.50,144.37 173.50,143.94 174.50,143.51 175.50,143.09 176.50,142.66 177.50,142.24 178.50,141.82 179.50,141.41 180.50,140.99 181.50,140.58 182.50,140.18 183.50,139.77 184.50,139.37 185.50,138.97 186.50,138.57 187.50,138.18 188.50,137.78 189.50,137.39 190.50,137.01 191.50,136.62 192.50,136.24 193.50,135.86 194.50,135.49 195.50,135.11 196.50,134.74 197.50,134.37 198.50,134.01 199.50,133.64 200.50,133.28 201.50,132.92 202.50,132.57 203.50,132.21 204.50,131.86 205.50,131.51 206.50,131.16 207.50,130.81 208.50,130.46 209.50,130.12 210.50,129.78 211.50,129.44 212.50,129.10 213.50,128.76 214.50,128.42 215.50,128.09 216.50,127.76 217.50,127.42 218.50,127.09 219.50,126.76 220.50,126.44 221.50,126.11 222.50,125.78 223.50,125.46 224.50,125.13 225.50,124.81 226.50,124.49 227.50,124.17 228.50,123.85 229.50,123.53 230.50,123.22 231.50,122.90 232.50,122.59 233.50,122.27 234.50,121.96 235.50,121.65 236.50,121.34 237.50,121.03 238.50,120.73 239.50,120.42 240.50,120.12 241.50,119.82 242.50,119.51 243.50,119.21 244.50,118.92 245.50,118.62 246.50,118.32 247.50,118.03 248.50,117.74 249.50,117.45 250.50,117.16 251.50,116.87 252.50,116.58 253.50,116.29 254.50,116.01 255.50,115.73 256.50,115.45 257.50,115.17 258.50,114.89 259.50,114.61 260.50,114.34 261.50,114.06 262.50,113.79 263.50,113.52 264.50,113.25 265.50,112.99 266.50,112.72 267.50,112.46 268.50,112.20 269.50,111.94 270.50,111.68 271.50,111.42 272.50,111.16 273.50,110.91 274.50,110.66 275.50,110.41 276.50,110.16 277.50,109.91 278.50,109.66 279.50,109.42 280.50,109.18 281.50,108.94 282.50,108.70 283.50,108.46 284.50,108.23 285.50,107.99 286.50,107.76 287.50,107.53 288.50,107.30 289.50,107.07 290.50,106.85 291.50,106.62 292.50,106.39 293.50,106.17 294.50,105.95 295.50,105.73 296.50,105.51 297.50,105.29 298.50,105.07 299.50,104.85 300.50,104.63 301.50,104.42 302.50,104.20 303.50,103.99 304.50,103.77 305.50,103.56 306.50,103.34 307.50,103.13 308.50,102.92 309.50,102.71 310.50,102.49 311.50,102.28 312.50,102.07 313.50,101.86 314.50,101.65 315.50,101.44 316.50,101.23 317.50,101.02 318.50,100.81 319.50,100.60 320.50,100.39 321.50,100.18 322.50,99.97 323.50,99.76 324.50,99.56 325.50,99.35 326.50,99.14 327.50,98.94 328.50,98.73 329.50,98.53 330.50,98.32 331.50,98.12 332.50,97.91 333.50,97.71 334.50,97.51 335.50,97.30 336.50,97.10 337.50,96.90 338.50,96.70 339.50,96.50 340.50,96.30 341.50,96.10 342.50,95.90 343.50,95.70 344.50,95.51 345.50,95.31 346.50,95.12 347.50,94.92 348.50,94.73 349.50,94.53 350.50,94.34 351.50,94.15 352.50,93.96 353.50,93.77 354.50,93.58 355.50,93.39 356.50,93.20 357.50,93.02 358.50,92.83 359.50,92.65 360.50,92.47 361.50,92.29 362.50,92.11 363.50,91.93 364.50,91.75 365.50,91.58 366.50,91.40 367.50,91.23 368.50,91.06 369.50,90.88 370.50,90.72 371.50,90.55 372.50,90.38 373.50,90.22 374.50,90.05 375.50,89.89 376.50,89.73 377.50,89.58 378.50,89.42 379.50,89.26 380.50,89.11 381.50,88.96 382.50,88.81 383.50,88.66 384.50,88.52 385.50,88.37 386.50,88.23 387.50,88.09 388.50,87.95 389.50,87.82 390.50,87.69 391.50,87.55 392.50,87.42 393.50,87.30 394.50,87.17 395.50,87.05 395.90,87.00" fill="none" stroke="#ff0000" stroke-width="1.3" stroke-dasharray="1.2 3.1 6.4 3.1"/>
<polyline points="40.50,236.00 41.50,235.07 42.50,234.15 43.50,233.24 44.50,232.33 45.50,231.43 46.50,230.53 47.50,229.64 48.50,228.75 49.50,227.87 50.50,226.99 51.50,226.12 52.50,225.25 53.50,224.39 54.50,223.53 55.50,222.67 56.50,221.82 57.50,220.97 58.50,220.12 59.50,219.27 60.50,218.43 61.50,217.59 62.50,216.75 63.50,215.92 64.50,215.08 65.50,214.25 66.50,213.41 67.50,212.58 68.50,211.75 69.50,210.92 70.50,210.08 71.50,209.25 72.50,208.42 73.50,207.59 74.50,206.76 75.50,205.93 76.50,205.11 77.50,204.28 78.50,203.46 79.50,202.64 80.50,201.83 81.50,201.01 82.50,200.20 83.50,199.40 84.50,198.60 85.50,197.80 86.50,197.01 87.50,196.22 88.50,195.44 89.50,194.67 90.50,193.89 91.50,193.13 92.50,192.36 93.50,191.61 94.50,190.85 95.50,190.11 96.50,189.36 97.50,188.62 98.50,187.89 99.50,187.16 100.50,186.44 101.50,185.72 102.50,185.01 103.50,184.30 104.50,183.59 105.50,182.89 106.50,182.20 107.50,181.51 108.50,180.82 109.50,180.14 110.50,179.46 111.50,178.79 112.50,178.12 113.50,177.45 114.50,176.79 115.50,176.13 116.50,175.48 117.50,174.83 118.50,174.18 119.50,173.54 120.50,172.90 121.50,172.27 122.50,171.64 123.50,171.01 124.50,170.38 125.50,169.76 126.50,169.14 127.50,168.53 128.50,167.91 129.50,167.30 130.50,166.70 131.50,166.09 132.50,165.49 133.50,164.89 134.50,164.30 135.50,163.71 136.50,163.12 137.50,162.53 138.50,161.94 139.50,161.36 140.50,160.78 141.50,160.20 142.50,159.63 143.50,159.06 144.50,158.48 145.50,157.92 146.50,157.35 147.50,156.79 148.50,156.22 149.50,155.66 150.50,155.10 151.50,154.55 152.50,153.99 153.50,153.44 154.50,152.89 155.50,152.34 156.50,151.79 157.50,151.25 158.50,150.70 159.50,150.16 160.50,149.62 161.50,149.08 162.50,148.54 163.50,148.01 164.50,147.47 165.50,146.94 166.50,146.41 167.50,145.88 168.50,145.36 169.50,144.83 170.50,144.31 171.50,143.79 172.50,143.28 173.50,142.76 174.50,142.25 175.50,141.75 176.50,141.24 177.50,140.74 178.50,140.24 179.50,139.75 180.50,139.25 181.50,138.76 182.50,138.28 183.50,137.79 184.50,137.31 185.50,136.83 186.50,136.35 187.50,135.88 188.50,135.40 189.50,134.93 190.50,134.47 191.50,134.00 192.50,133.54 193.50,133.08 194.50,132.62 195.50,132.16 196.50,131.71 197.50,131.26 198.50,130.81 199.50,130.36 200.50,129.92 201.50,129.48 202.50,129.04 203.50,128.60 204.50,128.17 205.50,127.74 206.50,127.31 207.50,126.88 208.50,126.46 209.50,126.04 210.50,125.62 211.50,125.21 212.50,124.80 213.50,124.39 214.50,123.98 215.50,123.58 216.50,123.18 217.50,122.78 218.50,122.39 219.50,121.99 220.50,121.61 221.50,121.22 222.50,120.84 223.50,120.46 224.50,120.08 225.50,119.71 226.50,119.33 227.50,118.96 228.50,118.59 229.50,118.23 230.50,117.86 231.50,117.50 232.50,117.14 233.50,116.78 234.50,116.42 235.50,116.06 236.50,115.70 237.50,115.34 238.50,114.99 239.50,114.63 240.50,114.28 241.50,113.92 242.50,113.57 243.50,113.21 244.50,112.86 245.50,112.50 246.50,112.15 247.50,111.79 248.50,111.44 249.50,111.08 250.50,110.72 251.50,110.36 252.50,110.00 253.50,109.64 254.50,109.28 255.50,108.92 256.50,108.55 257.50,108.19 258.50,107.83 259.50,107.46 260.50,107.10 261.50,106.74 262.50,106.38 263.50,106.01 264.50,105.65 265.50,105.29 266.50,104.93 267.50,104.57 268.50,104.21 269.50,103.86 270.50,103.50 271.50,103.15 272.50,102.79 273.50,102.44 274.50,102.09 275.50,101.74 276.50,101.40 277.50,101.05 278.50,100.71 279.50,100.37 280.50,100.03 281.50,99.70 282.50,99.36 283.50,99.03 284.50,98.70 285.50,98.38 286.50,98.05 287.50,97.73 288.50,97.41 289.50,97.09 290.50,96.78 291.50,96.46 292.50,96.15 293.50,95.84 294.50,95.53 295.50,95.22 296.50,94.91 297.50,94.61 298.50,94.30 299.50,94.00 300.50,93.70 301.50,93.40 302.50,93.10 303.50,92.81 304.50,92.51 305.50,92.22 306.50,91.92 307.50,91.63 308.50,91.34 309.50,91.05 310.50,90.75 311.50,90.47 312.50,90.18 313.50,89.89 314.50,89.60 315.50,89.31 316.50,89.03 317.50,88.74 318.50,88.46 319.50,88.18 320.50,87.89 321.50,87.61 322.50,87.33 323.50,87.05 324.50,86.78 325.50,86.50 326.50,86.22 327.50,85.95 328.50,85.67 329.50,85.40 330.50,85.13 331.50,84.86 332.50,84.59 333.50,84.32 334.50,84.05 335.50,83.78 336.50,83.52 337.50,83.25 338.50,82.99 339.50,82.73 340.50,82.47 341.50,82.21 342.50,81.95 343.50,81.70 344.50,81.44 345.50,81.19 346.50,80.93 347.50,80.68 348.50,80.43 349.50,80.18 350.50,79.93 351.50,79.68 352.50,79.43 353.50,79.19 354.50,78.94 355.50,78.69 356.50,78.45 357.50,78.21 358.50,77.96 359.50,77.72 360.50,77.48 361.50,77.24 362.50,77.00 363.50,76.75 364.50,76.51 365.50,76.27 366.50,76.04 367.50,75.80 368.50,75.56 369.50,75.32 370.50,75.08 371.50,74.84 372.50,74.60 373.50,74.37 374.50,74.13 375.50,73.89 376.50,73.65 377.50,73.42 378.50,73.18 379.50,72.94 380.50,72.70 381.50,72.47 382.50,72.23 383.50,71.99 384.50,71.75 385.50,71.51 386.50,71.27 387.50,71.03 388.50,70.79 389.50,70.55 390.50,70.31 391.50,70.07 392.50,69.83 393.50,69.58 394.50,69.34 395.50,69.10 395.90,69.00" fill="none" stroke="#000" stroke-width="1.6"/>
</g>
<circle cx="159.8" cy="150.4" r="5.8" fill="#000"/>
<rect x="40.6" y="6.5" width="355.29999999999995" height="261.3" fill="none" stroke="#1a1a1a" stroke-width="1.1"/>
<path d="M42.70,267.8v-10.0M42.70,6.5v10.0M66.10,267.8v-5.5M66.10,6.5v5.5M89.50,267.8v-5.5M89.50,6.5v5.5M112.90,267.8v-5.5M112.90,6.5v5.5M136.30,267.8v-5.5M136.30,6.5v5.5M159.70,267.8v-10.0M159.70,6.5v10.0M183.10,267.8v-5.5M183.10,6.5v5.5M206.50,267.8v-5.5M206.50,6.5v5.5M229.90,267.8v-5.5M229.90,6.5v5.5M253.30,267.8v-5.5M253.30,6.5v5.5M276.70,267.8v-10.0M276.70,6.5v10.0M300.10,267.8v-5.5M300.10,6.5v5.5M323.50,267.8v-5.5M323.50,6.5v5.5M346.90,267.8v-5.5M346.90,6.5v5.5M370.30,267.8v-5.5M370.30,6.5v5.5M393.70,267.8v-10.0M393.70,6.5v10.0M40.6,6.50h10.0M395.9,6.50h-10.0M40.6,39.16h5.5M395.9,39.16h-5.5M40.6,71.83h10.0M395.9,71.83h-10.0M40.6,104.49h5.5M395.9,104.49h-5.5M40.6,137.15h10.0M395.9,137.15h-10.0M40.6,169.81h5.5M395.9,169.81h-5.5M40.6,202.48h10.0M395.9,202.48h-10.0M40.6,235.14h5.5M395.9,235.14h-5.5M40.6,267.80h10.0M395.9,267.80h-10.0" stroke="#000" stroke-width="1.1" fill="none"/>
<text x="35.8" y="12.00" font-size="16" text-anchor="end">0</text>
<text x="35.8" y="77.33" font-size="16" text-anchor="end">-1</text>
<text x="35.8" y="142.65" font-size="16" text-anchor="end">-2</text>
<text x="35.8" y="207.98" font-size="16" text-anchor="end">-3</text>
<text x="35.8" y="273.30" font-size="16" text-anchor="end">-4</text>
<text x="42.70" y="283.7" font-size="16" text-anchor="middle">0.5</text>
<text x="159.70" y="283.7" font-size="16" text-anchor="middle">1</text>
<text x="276.70" y="283.7" font-size="16" text-anchor="middle">1.5</text>
<text x="393.70" y="283.7" font-size="16" text-anchor="middle">2</text>
<text transform="translate(14.2,134.4) rotate(-90)" word-spacing="3.5" font-size="19.6" text-anchor="middle">E [MeV]</text>
<text x="218.8" y="303.1" font-size="19.5" text-anchor="middle">m<tspan font-size="14" dy="7">q</tspan><tspan dy="-7"> / m</tspan><tspan font-size="14" dy="7">q0</tspan></text>
<line x1="56" x2="102" y1="26.5" y2="26.5" stroke="#bc8f8f" stroke-width="1.25"/>
<line x1="56" x2="102" y1="46.8" y2="46.8" stroke="#00ffff" stroke-width="1.5"/>
<line x1="56" x2="102" y1="68.2" y2="68.2" stroke="#0000ff" stroke-width="1.5" stroke-dasharray="5.7 3.6"/>
<line x1="56" x2="102" y1="90.7" y2="90.7" stroke="#ff0000" stroke-width="1.4" stroke-dasharray="1.2 3.1 6.4 3.1"/>
<line x1="56" x2="102" y1="109.8" y2="109.8" stroke="#000" stroke-width="1.35"/>
<text x="118.0" y="28.4" font-size="13.45">g<tspan font-size="10.5" dy="4.4">A</tspan><tspan dy="-4.4">: uncertainty in d</tspan><tspan font-size="10.5" dy="4.4">16</tspan></text>
<text x="118.0" y="48.9" font-size="13.45">g<tspan font-size="10.5" dy="4.4">A</tspan><tspan dy="-4.4">: 10% variation of the lattice point</tspan></text>
<text x="118.0" y="73.8" font-size="13.6">2<tspan font-size="15">π</tspan>-exchange: strict order Q<tspan font-size="11" dy="-7.1">3</tspan></text>
<text x="118.0" y="97.8" font-size="13.6">nucleon mass, order Q<tspan font-size="11" dy="-7.1">2</tspan></text>
<text x="118.0" y="113.5" font-size="13.6">NNLO, fit 3</text>
</svg></body></html>
